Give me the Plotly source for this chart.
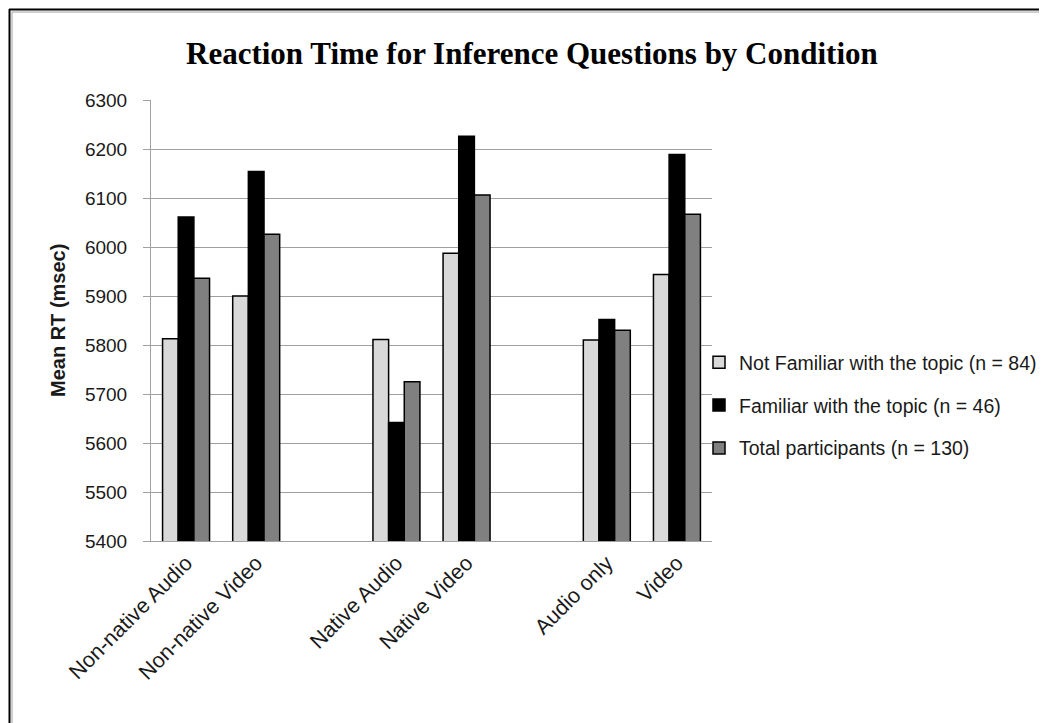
import plotly.graph_objects as go

# ---- data ----
conditions = ["Non-native Audio", "Non-native Video", "Native Audio", "Native Video", "Audio only", "Video"]
not_familiar = [5813, 5900, 5811, 5987, 5810, 5944]
familiar = [6061, 6154, 5642, 6226, 5852, 6189]
total = [5936, 6026, 5725, 6106, 5830, 6067]
series_names = ["Not Familiar with the topic (n = 84)", "Familiar with the topic (n = 46)", "Total participants (n = 130)"]
series_colors = ["#D9D9D9", "#000000", "#808080"]
y_ticks = [5400, 5500, 5600, 5700, 5800, 5900, 6000, 6100, 6200, 6300]

# category layout: empty spacer categories between the three pairs
groups = [conditions[0:2], conditions[2:4], conditions[4:6]]
cats = []
for gi, g in enumerate(groups):
    cats.extend(g)
    if gi < len(groups) - 1:
        cats.append(" " * (gi + 1))

def expand(vals):
    d = dict(zip(conditions, vals))
    return [d.get(c) for c in cats]

W, H = 1047, 723
L, R, T, B = 143, 343, 92, 190
pw, ph = W - L - R, H - T - B

def px(x):
    return (x - L) / pw

def py(y):
    return (H - B - y) / ph

fig = go.Figure()
for i, (name, vals, col) in enumerate(zip(series_names, [not_familiar, familiar, total], series_colors)):
    fig.add_trace(go.Bar(
        x=cats, y=expand(vals), name=name, legendgroup="g%d" % i,
        marker=dict(color=col, line=dict(color="#000000", width=1.5)),
    ))

fig.update_layout(
    width=W, height=H,
    margin=dict(l=L, r=R, t=T, b=B, autoexpand=False),
    paper_bgcolor="white", plot_bgcolor="white",
    barmode="group", bargap=0.33, bargroupgap=0.0,
    font=dict(family="Liberation Sans, Arial, sans-serif", color="#1a1a1a"),
    showlegend=True,
    legend=dict(x=px(691), y=py(335), xanchor="left", yanchor="top",
                font=dict(size=19.5, color="#1a1a1a"), bgcolor="rgba(0,0,0,0)",
                traceorder="grouped", tracegroupgap=14.5),
    xaxis=dict(type="category", categoryorder="array", categoryarray=cats,
               tickangle=-45, tickfont=dict(size=21.5, color="#1a1a1a"),
               showline=True, linecolor="#A0A0A0", linewidth=1,
               ticks="", showgrid=False, fixedrange=True),
    yaxis=dict(range=[5400, 6300], tickvals=y_ticks, tickfont=dict(size=19, color="#1a1a1a"),
               showline=True, linecolor="#A0A0A0", linewidth=1,
               ticks="outside", ticklen=7, tickcolor="#A0A0A0",
               ticklabelstandoff=12,
               showgrid=True, gridcolor="#A0A0A0", gridwidth=1, zeroline=False),
    annotations=[
        dict(text="<b>Reaction Time for Inference Questions by Condition</b>",
             xref="paper", yref="paper", x=px(524), y=py(45), xanchor="center", yanchor="middle",
             showarrow=False, font=dict(family="Liberation Serif, Times New Roman, serif", size=31, color="#000000")),
        dict(text="<b>Mean RT (msec)</b>", textangle=-90,
             xref="paper", yref="paper", x=px(50), y=py(313), xanchor="center", yanchor="middle",
             showarrow=False, font=dict(size=20, color="#1a1a1a")),
    ],
    shapes=[
        dict(type="line", xref="paper", yref="paper", x0=px(1.5), x1=px(1.5), y0=py(1), y1=py(723),
             line=dict(color="#000000", width=2)),
        dict(type="line", xref="paper", yref="paper", x0=px(1), x1=px(1047), y0=py(1.5), y1=py(1.5),
             line=dict(color="#000000", width=2)),
        dict(type="line", xref="paper", yref="paper", x0=px(4), x1=px(4), y0=py(4), y1=py(723),
             line=dict(color="#A0A0A0", width=1)),
        dict(type="line", xref="paper", yref="paper", x0=px(4), x1=px(1047), y0=py(4), y1=py(4),
             line=dict(color="#A0A0A0", width=1)),
        dict(type="line", xref="paper", yref="paper", x0=px(0), x1=px(1047), y0=py(722), y1=py(722),
             line=dict(color="#C8C8C8", width=1)),
    ],
)

fig.write_html("out.html")
